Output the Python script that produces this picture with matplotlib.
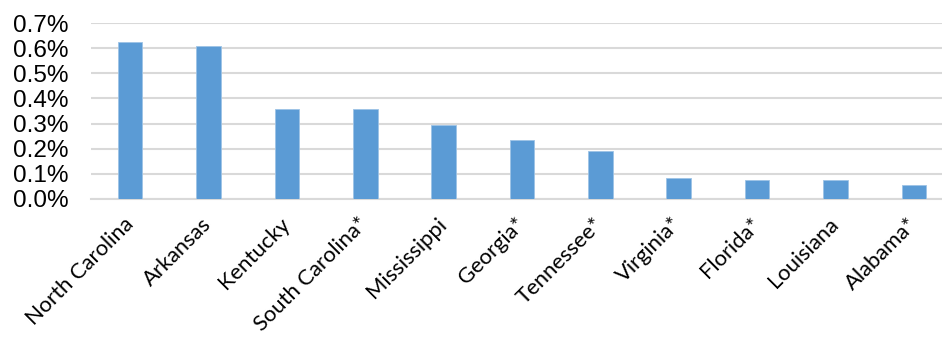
import matplotlib.pyplot as plt
import numpy as np
from matplotlib.ticker import FuncFormatter, MultipleLocator

states = ["North Carolina", "Arkansas", "Kentucky", "South Carolina*", "Mississippi",
          "Georgia*", "Tennessee*", "Virginia*", "Florida*", "Louisiana", "Alabama*"]
share = [0.624, 0.610, 0.357, 0.357, 0.294, 0.233, 0.190, 0.083, 0.075, 0.075, 0.053]

fig = plt.figure(figsize=(9.42, 3.39), dpi=100)
ax = fig.add_axes([91 / 942, (339 - 198.7) / 339, (953 - 91) / 942, 175.4 / 339])

x = np.arange(len(states))
ax.bar(x, share, width=0.314, color="#5b9bd5", edgecolor="#9dc3e6", linewidth=0.6, zorder=3)

ax.set_xlim(-0.5, len(states) - 0.5)
ax.set_ylim(0, 0.7)
ax.yaxis.set_major_locator(MultipleLocator(0.1))
ax.yaxis.set_major_formatter(FuncFormatter(lambda v, _: f"{v:.1f}%"))
ax.grid(axis="y", color="#d9d9d9", linewidth=1.5, zorder=0)

for side in ["top", "right", "left"]:
    ax.spines[side].set_visible(False)
ax.spines["bottom"].set_color("#d9d9d9")
ax.spines["bottom"].set_linewidth(1.5)
ax.tick_params(axis="both", length=0)
ax.tick_params(axis="y", pad=16)
ax.tick_params(axis="x", pad=16)

ax.set_xticks(x)
ax.set_xticklabels(states, rotation=45, ha="right", va="center", rotation_mode="anchor",
                   fontsize=15.8, family="Lato")
for lbl in ax.get_yticklabels():
    lbl.set_family("Liberation Sans")
    lbl.set_fontsize(17.5)

fig.savefig("out.png", dpi=100)
